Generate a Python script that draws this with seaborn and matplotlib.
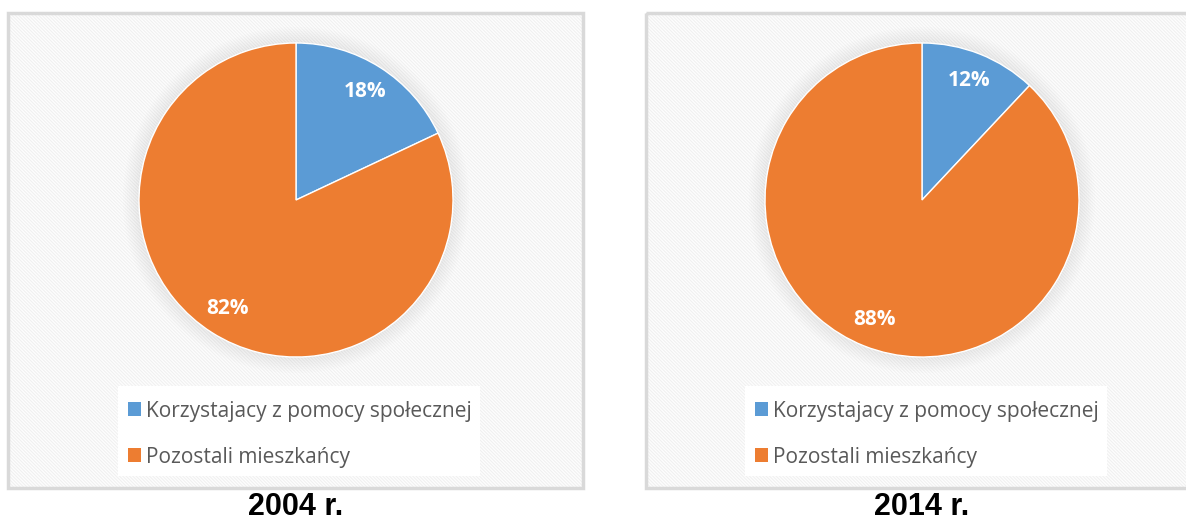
import matplotlib
matplotlib.use("Agg")
import matplotlib.pyplot as plt
import matplotlib.patches as mpatches
import seaborn as sns

# data
categories = ["Korzystajacy z pomocy społecznej", "Pozostali mieszkańcy"]
years = ["2004 r.", "2014 r."]
values_2004 = [18, 82]
values_2014 = [12, 88]

sns.set_style("white")
colors = ["#5B9BD5", "#ED7D31"]
plt.rcParams["hatch.linewidth"] = 0.8

W, H = 1186, 523
fig = plt.figure(figsize=(W / 100, H / 100), dpi=100)

# background canvas in pixel coordinates
bg = fig.add_axes([0, 0, 1, 1])
bg.set_xlim(0, W)
bg.set_ylim(H, 0)
bg.axis("off")

panels = [
    # box left, box right, pie centre x, legend left
    (8, 583, 296, 118, values_2004, years[0]),
    (646, 1200, 922, 745, values_2014, years[1]),
]
top, bottom = 13, 488
pie_cy, radius = 200, 157

for x0, x1, cx, lx, vals, title in panels:
    bg.add_patch(mpatches.Rectangle((x0, top), x1 - x0, bottom - top,
                                    facecolor="#fefefe", edgecolor="#f0f0f0",
                                    hatch="\\" * 10, lw=0, zorder=1))
    bg.add_patch(mpatches.Rectangle((x0, top), x1 - x0, bottom - top,
                                    facecolor="none", edgecolor="#d9d9d9",
                                    lw=2.5, zorder=2))
    # soft shadow around the pie
    for k in range(8):
        bg.add_patch(mpatches.Circle((cx, pie_cy), radius + 2 + 2 * k,
                                     facecolor="#b0b0b0", edgecolor="none",
                                     alpha=0.025, zorder=2))
    # legend box
    bg.add_patch(mpatches.Rectangle((lx, 386), 362, 90, facecolor="white",
                                    edgecolor="none", zorder=2))
    bg.text(cx, 507, title, ha="center", va="center", fontsize=22,
            fontweight="bold", family="Liberation Sans", color="black", zorder=3)

    ax = fig.add_axes([(cx - radius) / W, (H - pie_cy - radius) / H,
                       2 * radius / W, 2 * radius / H])
    wedges, texts, autotexts = ax.pie(
        vals, colors=colors, startangle=90, counterclock=False,
        autopct="%d%%", pctdistance=0.82,
        wedgeprops=dict(edgecolor="white", linewidth=1.0),
        textprops=dict(color="white", fontsize=15, fontweight="bold",
                       family="Open Sans"))
    ax.set_xlim(-1, 1)
    ax.set_ylim(-1, 1)
    ax.set_aspect("equal")
    ax.axis("off")

    leg = fig.legend(wedges, categories, loc="upper left",
                     bbox_to_anchor=((lx - 5) / W, (H - 386) / H),
                     frameon=False,
                     prop=dict(family="Open Sans", size=15),
                     labelcolor="#595959", handlelength=0.65, handleheight=0.65,
                     handletextpad=0.25, labelspacing=1.2, borderpad=0.2)
    for h in leg.legend_handles:
        h.set_edgecolor("none")

fig.savefig("out.png", dpi=100)
